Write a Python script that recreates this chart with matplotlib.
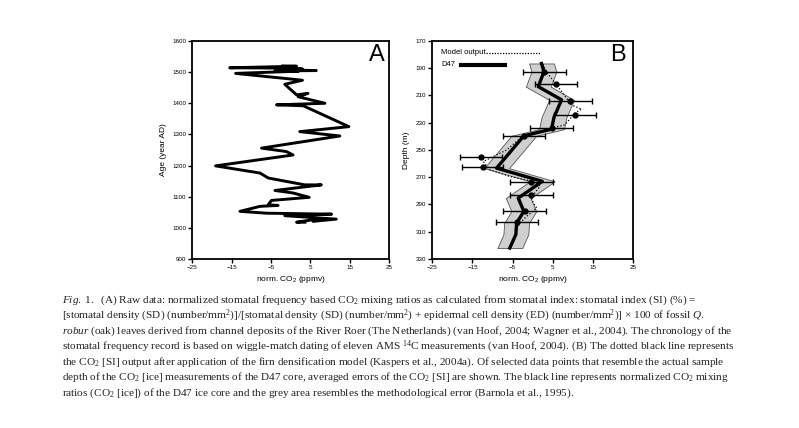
import numpy as np
import matplotlib
matplotlib.use("Agg")
import matplotlib.pyplot as plt

plt.rcParams['font.family'] = ['Liberation Sans', 'DejaVu Sans']
plt.rcParams['mathtext.fontset'] = 'custom'
plt.rcParams['mathtext.rm'] = 'Liberation Serif'
plt.rcParams['mathtext.it'] = 'Liberation Serif:italic'
plt.rcParams['mathtext.bf'] = 'Liberation Serif:bold'

# panel A: stomatal CO2 record (norm. ppmv) vs age (year AD)
a_co2 = [-2, 1.5, -15.5, -2, 3, -3, 6.5, -4, 2, -14, 3, -1.5, 1.5, 4.4, 1.9, 8.7, -3.6, 3.2,
         14.8, 2.3, 12.5, -7.4, -1.1, 0.6, -19.1, -7.8, -5.7, 3.6, 7.8, -4.0, 0.6, 4.7, -4.9,
         -5.7, -3.2, -7.8, -12.9, -6.1, 10.4, -1.5, 11.6, 5.7, 6.6, 1.5, 3.6]
a_age = [1520, 1519, 1514, 1513, 1510, 1508, 1505, 1504, 1503, 1496, 1474, 1461, 1427, 1432,
         1421, 1400, 1395, 1392, 1325, 1309, 1295, 1256, 1245, 1234, 1199, 1176, 1160, 1138,
         1138, 1120, 1112, 1098, 1088, 1074, 1072, 1069, 1053, 1047, 1044, 1039, 1028, 1021,
         1028, 1018, 1018]

# panel B: D47 ice core (centre line) with methodological error band
d47_co2 = [2.2, 2.8, 1.4, 7.2, 5.3, 4.7, -2.2, -9.0, 2.4, -3.6, -2.2, -4.0, -4.2, -5.7]
d47_depth = [186.5, 192.5, 203.5, 213.2, 226, 234.7, 239.6, 263.3, 273, 285.3, 295, 303.6, 312, 322]
d47_err = 3.1

# model output (dotted)
mod_co2 = [2.5, 3.5, 5.9, 9.7, 12.2, 10.5, 8.0, 3.4, -2.4, -6.5, -12.3, -10.7, -5.7, 0.1, 1.8,
           0.5, -0.3, 1.0, -1.5, -3.2, -4.0]
mod_depth = [187, 193, 202, 217, 220, 223, 231.5, 235, 239.6, 250, 258.4, 264.5, 269.4, 273,
             276.7, 281.6, 286.5, 292.6, 298.7, 303.6, 308]

# selected points with averaged errors of CO2 [SI]
pt_co2 = [2.9, 5.8, 9.4, 10.5, 4.7, -2.2, -12.9, -12.5, -0.3, -0.3, -2.0, -4.0]
pt_depth = [193, 201.8, 213.7, 224.2, 234, 239.6, 255.5, 262.6, 273.8, 283.3, 294.6, 303]
pt_err = [5.3, 5.3, 5.3, 5.3, 5.3, 5.2, 5.2, 5.2, 5.3, 5.3, 5.3, 5.2]

x_ticks = [-25, -15, -5, 5, 15, 25]

fig = plt.figure(figsize=(7.99, 4.28), dpi=100)
axA = fig.add_axes([0.2407, 0.3949, 0.2462, 0.5093])
axB = fig.add_axes([0.5411, 0.3949, 0.2512, 0.5093])

axA.plot(a_co2, a_age, color='black', lw=2.1, solid_joinstyle='round')
axA.set_xlim(-25, 25)
axA.set_ylim(900, 1600)
axA.set_yticks(range(900, 1601, 100))
axA.set_ylabel('Age (year AD)', fontsize=6, labelpad=4)
axA.text(0.94, 0.935, 'A', transform=axA.transAxes, fontsize=17, ha='center', va='center')

d47_co2 = np.array(d47_co2)
axB.fill_betweenx(d47_depth, d47_co2 - d47_err, d47_co2 + d47_err,
                  facecolor='#cfcfcf', edgecolor='#555555', lw=0.6)
axB.plot(mod_co2, mod_depth, color='black', lw=0.9, ls=(0, (1, 1.6)))
axB.plot(d47_co2, d47_depth, color='black', lw=2.4)
axB.errorbar(pt_co2, pt_depth, xerr=pt_err, fmt='o', color='black', ms=3.5,
             elinewidth=1.0, capsize=2.2, capthick=1.0)
axB.set_xlim(-25, 25)
axB.set_ylim(330, 170)
axB.set_yticks(range(170, 331, 20))
axB.set_ylabel('Depth (m)', fontsize=6, labelpad=4)
axB.text(0.925, 0.935, 'B', transform=axB.transAxes, fontsize=17, ha='center', va='center')

# legend drawn by hand to mimic text-then-line layout
axB.text(0.043, 0.945, 'Model output', transform=axB.transAxes, fontsize=5.5, va='center')
axB.plot([0.267, 0.536], [0.945, 0.945], transform=axB.transAxes, color='black', lw=0.9,
         ls=(0, (1, 1.2)))
axB.text(0.043, 0.89, 'D47', transform=axB.transAxes, fontsize=5.5, va='center')
axB.plot([0.145, 0.362], [0.89, 0.89], transform=axB.transAxes, color='black', lw=3)

for ax in (axA, axB):
    ax.set_xticks(x_ticks)
    ax.set_xlabel(r'norm. CO$_\mathregular{2}$ (ppmv)', fontsize=6, labelpad=3)
    ax.tick_params(labelsize=4.5, length=3, width=1, direction='out', pad=1.5)
    for s in ax.spines.values():
        s.set_linewidth(1.3)

cap = [
    r'$\it{Fig.\ 1.}$  (A) Raw data: normalized stomatal frequency based CO$_2$ mixing ratios as calculated from stomatal index: stomatal index (SI) (%) =',
    r'[stomatal density (SD) (number/mm$^2$)]/[stomatal density (SD) (number/mm$^2$) + epidermal cell density (ED) (number/mm$^2$)] $\times$ 100 of fossil $\it{Q.}$',
    r'$\it{robur}$ (oak) leaves derived from channel deposits of the River Roer (The Netherlands) (van Hoof, 2004; Wagner et al., 2004). The chronology of the',
    r'stomatal frequency record is based on wiggle-match dating of eleven AMS $^{14}$C measurements (van Hoof, 2004). (B) The dotted black line represents',
    r'the CO$_2$ [SI] output after application of the firn densification model (Kaspers et al., 2004a). Of selected data points that resemble the actual sample',
    r'depth of the CO$_2$ [ice] measurements of the D47 core, averaged errors of the CO$_2$ [SI] are shown. The black line represents normalized CO$_2$ mixing',
    r'ratios (CO$_2$ [ice]) of the D47 ice core and the grey area resembles the methodological error (Barnola et al., 1995).',
]
y0 = 300.7
for i, line in enumerate(cap):
    fig.text(62 / 799, 1 - (y0 + i * 15.35) / 428, line, fontsize=8.15,
             family='Liberation Serif', va='center', ha='left', color='#222222')

fig.savefig('out.png', dpi=100)
